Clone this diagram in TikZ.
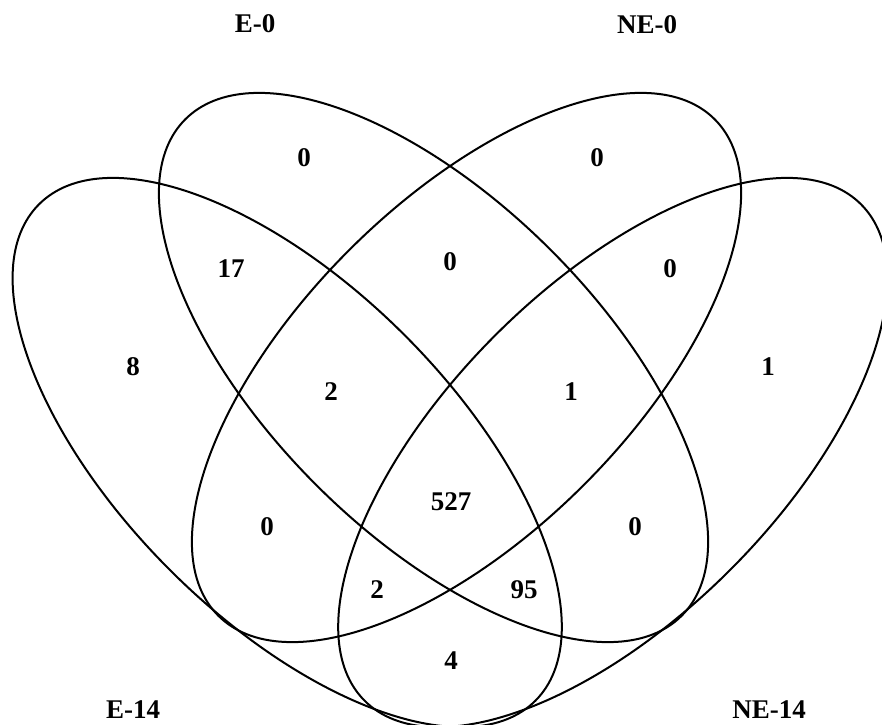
\documentclass[tikz,border=0pt]{standalone}
\usepackage{fontspec}
\setmainfont{Liberation Serif}
\usetikzlibrary{positioning}

\tikzset{
  setline/.style={line width=2pt},
  count/.style={font=\fontsize{27}{32}\selectfont\bfseries,inner sep=0pt},
  setname/.style={count}
}

\begin{document}
\begin{tikzpicture}[x=1pt,y=1pt]
  \useasboundingbox (0,0) rectangle (882,724);
  % set centres
  \coordinate (cE14) at (287.2,271.5);
  \coordinate (cE0) at (433.5,356.5);
  \coordinate (cNE0) at (466.5,356.5);
  \coordinate (cNE14) at (612.8,271.5);
  % ellipses
  \draw[setline,rotate around={-45:(cE14)}] (cE14) ellipse [x radius=351,y radius=166];
  \draw[setline,rotate around={-45:(cE0)}] (cE0) ellipse [x radius=351,y radius=166];
  \draw[setline,rotate around={45:(cNE0)}] (cNE0) ellipse [x radius=351,y radius=166];
  \draw[setline,rotate around={45:(cNE14)}] (cNE14) ellipse [x radius=351,y radius=166];
  % set names
  \node[setname] (tE0) at (255,700) {E-0};
  \node[setname] (tNE0) at (647,699) {NE-0};
  \node[setname] (tE14) at (133,14) {E-14};
  \node[setname] (tNE14) at (769,14) {NE-14};
  % counts
  \node[count] (onlyE0) at (304,566) {0};
  \node[count] (onlyNE0) at (597,566) {0};
  \node[count] (E14E0) at (231,455) {17};
  \node[count] (E0NE0) at (450,462) {0};
  \node[count] (NE0NE14) at (670,455) {0};
  \node[count] (onlyE14) at (133,357) {8};
  \node[count] (E14E0NE0) at (331,332) {2};
  \node[count] (E0NE0NE14) at (571,332) {1};
  \node[count] (onlyNE14) at (768,357) {1};
  \node[count] (all) at (451,222) {527};
  \node[count] (E14NE0) at (267,197) {0};
  \node[count] (E0NE14) at (635,197) {0};
  \node[count] (E14NE0NE14) at (377,134) {2};
  \node[count] (E14E0NE14) at (524,134) {95};
  \node[count] (E14NE14) at (451,63) {4};
\end{tikzpicture}
\end{document}
